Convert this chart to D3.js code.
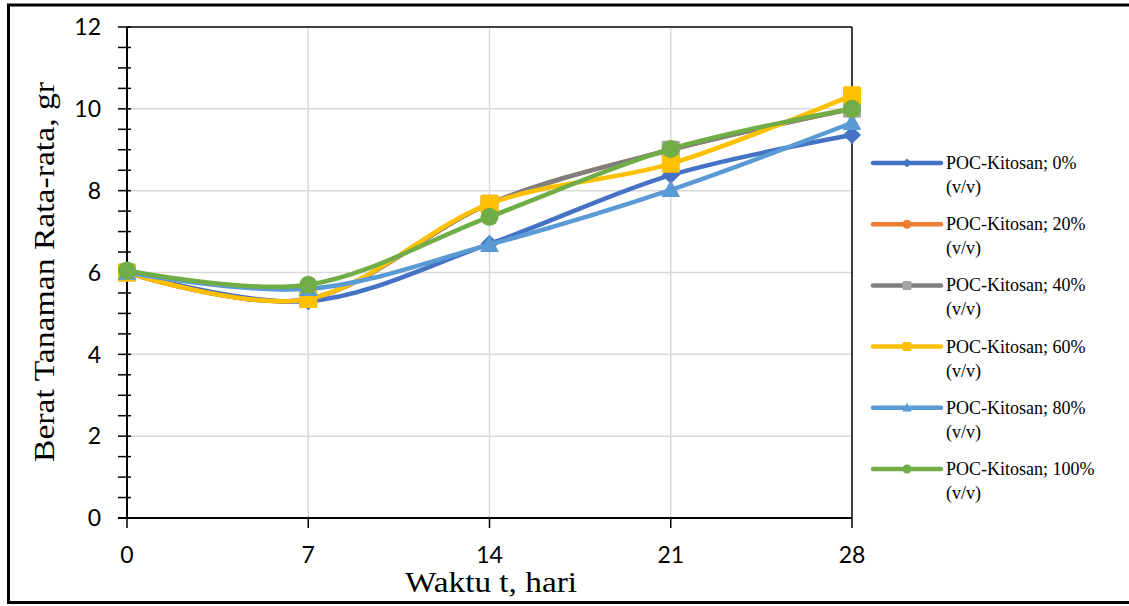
<!DOCTYPE html>
<html>
<head>
<meta charset="utf-8">
<script src="https://cdn.jsdelivr.net/npm/d3@7"></script>
<style>
html,body{margin:0;padding:0;background:#fff;}
svg{display:block;}
</style>
</head>
<body>
<svg id="chart" width="1129" height="606"></svg>
<script>
// ---- data ----
const days = [0, 7, 14, 21, 28];
const seriesNames = ["POC-Kitosan; 0%", "POC-Kitosan; 20%", "POC-Kitosan; 40%", "POC-Kitosan; 60%", "POC-Kitosan; 80%", "POC-Kitosan; 100%"];
const s0   = [6.0, 5.30, 6.70, 8.38, 9.36];
const s20  = [6.0, 5.35, 7.68, 9.00, 10.00];
const s40  = [6.0, 5.35, 7.68, 9.00, 10.00];
const s60  = [6.0, 5.35, 7.68, 8.66, 10.33];
const s80  = [6.0, 5.60, 6.68, 8.02, 9.66];
const s100 = [6.05, 5.70, 7.36, 9.02, 10.00];
const seriesValues = [s0, s20, s40, s60, s80, s100];
const lineColors = ["#4472C4", "#ED7D31", "#7F7F7F", "#FFC000", "#5B9BD5", "#70AD47"];
const markerColors = ["#4472C4", "#ED7D31", "#A5A5A5", "#FFC000", "#5B9BD5", "#70AD47"];
const markerTypes = ["diamond", "circle", "square", "square", "triangle", "circle"];
const yTicks = [0, 2, 4, 6, 8, 10, 12];
const xTicks = [0, 7, 14, 21, 28];
const xTitle = "Waktu t, hari";
const yTitle = "Berat Tanaman Rata-rata, gr";

// ---- layout ----
const svg = d3.select("#chart");
const L = 127, R = 852, T = 27, B = 518;
const x = d3.scaleLinear().domain([0, 28]).range([L, R]);
const y = d3.scaleLinear().domain([0, 12]).range([B, T]);

// outer border
svg.append("path").attr("d", `M1135,5 H8.5 V602.5 H1135`)
  .attr("fill", "none").attr("stroke", "#000").attr("stroke-width", 3);

// gridlines
const grid = svg.append("g");
grid.selectAll("line.h").data(yTicks.filter(d => d > 0 && d < 12)).enter().append("line")
  .attr("x1", L).attr("x2", R).attr("y1", d => y(d)).attr("y2", d => y(d))
  .attr("stroke", "#d9d9d9").attr("stroke-width", 1.5);
grid.selectAll("line.v").data(xTicks.filter(d => d > 0 && d < 28)).enter().append("line")
  .attr("y1", T).attr("y2", B).attr("x1", d => x(d)).attr("x2", d => x(d))
  .attr("stroke", "#d9d9d9").attr("stroke-width", 1.5);

// frame top & right
svg.append("line").attr("x1", L).attr("x2", R).attr("y1", T).attr("y2", T).attr("stroke", "#000").attr("stroke-width", 1.5);
svg.append("line").attr("x1", R).attr("x2", R).attr("y1", T).attr("y2", B).attr("stroke", "#000").attr("stroke-width", 1.5);

// y axis with minor ticks crossing
const yAxis = svg.append("g");
yAxis.append("line").attr("x1", L).attr("x2", L).attr("y1", T).attr("y2", B).attr("stroke", "#000").attr("stroke-width", 2);
const minor = d3.range(0, 12.01, 0.5);
yAxis.selectAll("line.t").data(minor).enter().append("line")
  .attr("x1", L - 9).attr("x2", L + 4).attr("y1", d => y(d)).attr("y2", d => y(d))
  .attr("stroke", "#000").attr("stroke-width", 1.5);
yAxis.selectAll("text").data(yTicks).enter().append("text")
  .attr("x", L - 26).attr("y", d => y(d)).attr("dy", "0.36em")
  .attr("text-anchor", "end").attr("font-family", "Lato, 'Open Sans', sans-serif")
  .attr("font-size", 23).attr("fill", "#000").text(d => d);

// x axis
const xAxis = svg.append("g");
xAxis.append("line").attr("x1", L - 9).attr("x2", R).attr("y1", B).attr("y2", B).attr("stroke", "#000").attr("stroke-width", 2);
xAxis.selectAll("line.t").data(xTicks).enter().append("line")
  .attr("x1", d => x(d)).attr("x2", d => x(d)).attr("y1", B).attr("y2", B + 10)
  .attr("stroke", "#000").attr("stroke-width", 1.5);
xAxis.selectAll("text").data(xTicks).enter().append("text")
  .attr("x", d => x(d)).attr("y", 563)
  .attr("text-anchor", "middle").attr("font-family", "Lato, 'Open Sans', sans-serif")
  .attr("font-size", 23).attr("fill", "#000").text(d => d);

// titles
svg.append("text").attr("x", 491).attr("y", 592).attr("text-anchor", "middle")
  .attr("font-family", "'Liberation Serif', 'Times New Roman', serif").attr("font-size", 29)
  .attr("textLength", 172).attr("lengthAdjust", "spacingAndGlyphs")
  .text(xTitle);
svg.append("text").attr("transform", "translate(54,272) rotate(-90)").attr("text-anchor", "middle")
  .attr("font-family", "'Liberation Serif', 'Times New Roman', serif").attr("font-size", 29)
  .attr("textLength", 380).attr("lengthAdjust", "spacingAndGlyphs")
  .text(yTitle);

// marker drawing
function marker(sel, type, color, size) {
  if (type === "circle") {
    sel.append("circle").attr("r", size * 0.5).attr("fill", color);
  } else if (type === "square") {
    sel.append("rect").attr("x", -size / 2).attr("y", -size / 2).attr("width", size).attr("height", size).attr("rx", 1.5).attr("fill", color);
  } else if (type === "diamond") {
    const s = size * 0.5;
    sel.append("path").attr("d", `M0,${-s} L${s},0 L0,${s} L${-s},0Z`).attr("fill", color);
  } else if (type === "triangle") {
    const s = size * 0.5;
    sel.append("path").attr("d", `M0,${-s * 1.1} L${s * 1.05},${s * 0.8} L${-s * 1.05},${s * 0.8}Z`).attr("fill", color);
  }
}

// lines
const line = d3.line().x((d, i) => x(days[i])).y(d => y(d)).curve(d3.curveCardinal.tension(0));
const plot = svg.append("g");
seriesValues.forEach((vals, si) => {
  const g = plot.append("g");
  g.append("path").attr("d", line(vals)).attr("fill", "none")
    .attr("stroke", lineColors[si]).attr("stroke-width", 4.5).attr("stroke-linecap", "round");
  vals.forEach((v, i) => {
    const m = g.append("g").attr("transform", `translate(${x(days[i])},${y(v)})`);
    marker(m, markerTypes[si], markerColors[si], 18);
  });
});

// legend
const legend = svg.append("g");
const legY0 = 163, legStep = 61.2;
seriesNames.forEach((name, i) => {
  const gy = legY0 + i * legStep;
  const g = legend.append("g").attr("transform", `translate(0,${gy})`);
  g.append("line").attr("x1", 873).attr("x2", 941).attr("y1", 0).attr("y2", 0)
    .attr("stroke", lineColors[i]).attr("stroke-width", 4.5).attr("stroke-linecap", "round");
  const m = g.append("g").attr("transform", "translate(907,0)");
  marker(m, markerTypes[i], markerColors[i], 9);
  g.append("text").attr("x", 946).attr("y", 6).attr("font-family", "'Liberation Serif', 'Times New Roman', serif")
    .attr("font-size", 18).attr("fill", "#000").text(name);
  g.append("text").attr("x", 946).attr("y", 30).attr("font-family", "'Liberation Serif', 'Times New Roman', serif")
    .attr("font-size", 18).attr("fill", "#000").text("(v/v)");
});
</script>
</body>
</html>
